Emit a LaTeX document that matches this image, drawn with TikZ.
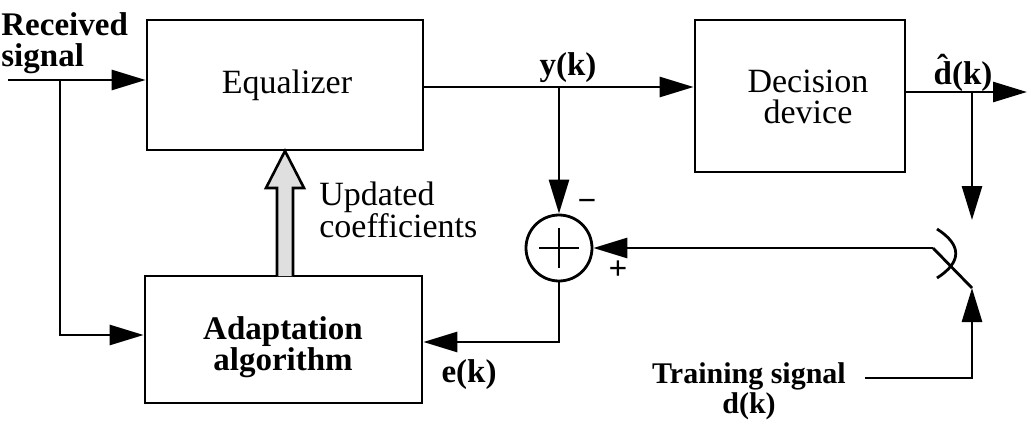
\documentclass[tikz,border=0pt]{standalone}
\usepackage{fontspec}
\setmainfont{Liberation Serif}
\usetikzlibrary{arrows.meta,calc}
\begin{document}
\begin{tikzpicture}[x=1pt,y=-1pt,line width=2.8pt,
  box/.style={draw,line width=2.8pt,inner sep=0pt},
  arr/.style={-{Triangle[length=34pt,width=20pt]}},
  lbl/.style={font=\fontsize{34}{31}\selectfont,inner sep=0pt},
  blbl/.style={font=\fontsize{33}{31}\selectfont\bfseries,inner sep=0pt}]
\useasboundingbox (0,0) rectangle (1029,423);
% blocks
\node[box,minimum width=276pt,minimum height=130pt] (eq) at (285,85) {};
\node[box,minimum width=277pt,minimum height=127pt] (ad) at (283.5,339.5) {};
\node[box,minimum width=210pt,minimum height=152pt] (dec) at (800,96) {};
\node[draw,circle,minimum size=66pt,inner sep=0pt] (sum) at (559,248) {};
\draw[line width=2.4pt] ($(sum.center)+(-20,0)$) -- ($(sum.center)+(20,0)$);
\draw[line width=2.4pt] ($(sum.center)+(0,-20)$) -- ($(sum.center)+(0,20)$);
% block texts
\node[lbl] (eqt) at (287,85) {Equalizer};
\node[blbl,align=center] (adt) at (283,347) {Adaptation\\algorithm};
\node[lbl,align=center] (dect) at (808,97) {Decision\\device};
% coordinates
\coordinate (in) at (8,80);
\coordinate (br) at (60,80);
\coordinate (br2) at (60,335);
\coordinate (yk) at (559,87);
\coordinate (dk) at (972,92);
\coordinate (out) at (1027,92);
\coordinate (swin) at (972,220);
\coordinate (piv) at (933,248);
\coordinate (swb) at (972,288);
\coordinate (tr) at (865,378);
\coordinate (trc) at (972,378);
\coordinate (ek) at (559,342);
% connectors
\draw[arr] (in) -- (in -| eq.west);
\draw[arr] (br) -- (br2) -- (br2 -| ad.west);
\draw[arr] (eq.east |- yk) -- (dec.west |- yk);
\draw[arr] (yk) -- (sum.north);
\draw[arr] (dec.east |- out) -- (out);
\draw[arr] (dk) -- (swin);
\draw (piv) -- (swb);
\draw (937,229) .. controls (962,245) and (962,262) .. (937,278);
\draw[arr] (piv) -- (sum.east);
\draw[arr] (tr) -- (trc) -- (swb);
\draw[arr] (sum.south) -- (ek) -- (ek -| ad.east);
% coefficient update arrow
\draw[line width=2.6pt,fill=gray!25,line join=miter]
  (277,276) -- (277,188) -- (266,188) -- (285,151) -- (304,188) -- (293,188) -- (293,276);
% labels
\node[blbl,align=left,anchor=west] (rs) at (0,43) {Received\\signal};
\node[lbl,align=left,anchor=west] (uc) at (318,210) {Updated\\coefficients};
\node[blbl] (ykl) at (568,68) {y(k)};
\node[blbl] (dkl) at (963,73) {\^{d}(k)};
\node[blbl] (ekl) at (469,375) {e(k)};
\node[blbl] (minus) at (587,205) {−};
\node[blbl] (plus) at (618,270) {+};
\node[font=\fontsize{30}{30}\selectfont\bfseries,inner sep=0pt,align=center] (ts) at (749,391) {Training signal\\d(k)};
\end{tikzpicture}
\end{document}
